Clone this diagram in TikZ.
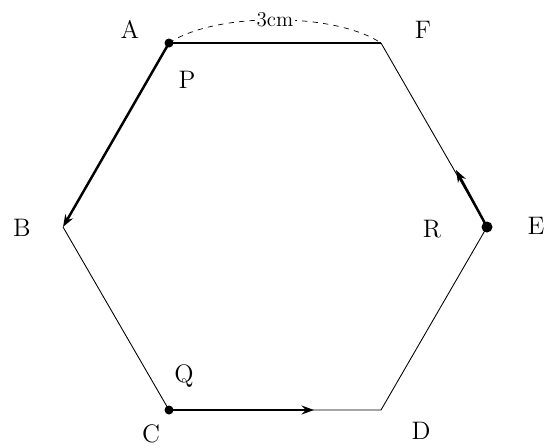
\documentclass[tikz,border=0pt]{standalone}
\usetikzlibrary{arrows.meta}
\begin{document}
\begin{tikzpicture}[x=0.02cm,y=-0.02cm,font=\Large,
  side/.style={line width=0.5pt},
  move/.style={line width=1.4pt,-{Stealth[length=7pt,width=5pt]}},
  lab/.style={inner sep=1pt}]
\useasboundingbox (0,0) rectangle (547,447);
\coordinate (A) at (169,43);
\coordinate (F) at (381,43);
\coordinate (E) at (487,227);
\coordinate (D) at (381,410);
\coordinate (C) at (169,410);
\coordinate (B) at (63,227);
\coordinate (Rend) at (456,170);
\coordinate (Qend) at (314,410);

\draw[side] (F) -- (E) -- (D) -- (C) -- (B);
\draw[line width=0.9pt] (A) -- (F);
\draw[move] (A) -- (B);
\draw[move,line width=1.2pt] (C) -- (Qend);
\draw[move] (E) -- (Rend);

\draw[dashed,line width=0.4pt] (A) .. controls (215,12) and (335,12) .. (F)
  node[pos=0.5,fill=white,inner sep=1pt,font=\large] (len) {3cm};

\fill (A) circle (4.5);
\fill (C) circle (4.5);
\fill (E) circle (5.5);

\node[lab] (lA) at (130,29) {A};
\node[lab] (lF) at (423,30) {F};
\node[lab] (lP) at (187,80) {P};
\node[lab] (lB) at (22,228) {B};
\node[lab] (lR) at (432,229) {R};
\node[lab] (lE) at (536,226) {E};
\node[lab] (lQ) at (184,376) {Q};
\node[lab] (lC) at (151,434) {C};
\node[lab] (lD) at (421,431) {D};
\end{tikzpicture}
\end{document}
